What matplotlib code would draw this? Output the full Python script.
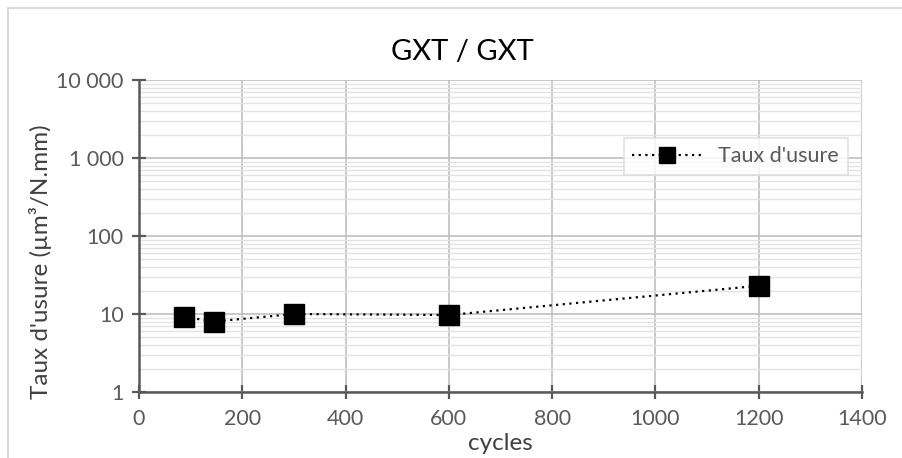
import numpy as np
import matplotlib.pyplot as plt
from matplotlib.patches import Rectangle
from matplotlib.ticker import LogLocator, NullFormatter

plt.rcParams['font.family'] = ['Lato', 'DejaVu Sans']

# donnees
cycles = [87, 145, 300, 600, 1200]
taux = [9.2, 8.0, 10.0, 9.7, 23.0]
yticks = [1, 10, 100, 1000, 10000]
ylabels = ['1', '10', '100', '1 000', '10 000']
xticks = [0, 200, 400, 600, 800, 1000, 1200, 1400]

W, H = 903, 458
fig = plt.figure(figsize=(W / 100, H / 100), dpi=100)
ax = fig.add_axes([139 / W, 1 - 392 / H, (862 - 139) / W, (392 - 80) / H])

ax.plot(cycles, taux, ls=(0, (1, 2)), lw=1.6, color='black',
        marker='s', ms=14, mfc='black', mec='black', label="Taux d'usure")

ax.set_yscale('log')
ax.set_ylim(1, 10000)
ax.set_xlim(0, 1400)
ax.set_xticks(xticks)
ax.set_yticks(yticks)
ax.set_yticklabels(ylabels)
ax.yaxis.set_minor_locator(LogLocator(base=10, subs=np.arange(2, 10)))
ax.yaxis.set_minor_formatter(NullFormatter())

ax.grid(True, which='major', color='#BFBFBF', lw=1.2)
ax.grid(True, which='minor', axis='y', color='#E3E3E3', lw=1.0)
ax.set_axisbelow(True)

for s in ['top', 'right']:
    ax.spines[s].set_visible(False)
for s in ['left', 'bottom']:
    ax.spines[s].set_color('#595959')
    ax.spines[s].set_linewidth(1.8)

ax.tick_params(which='major', direction='inout', length=10, width=1.6,
               color='#595959', labelcolor='#595959', labelsize=15.5)
ax.tick_params(which='minor', length=0)
ax.tick_params(axis='x', pad=7)
ax.tick_params(axis='y', pad=6)

fig.text(462 / W, 1 - 52 / H, 'GXT / GXT', ha='center', va='center',
         fontsize=21, color='black')
fig.text(500 / W, 1 - 443 / H, 'cycles', ha='center', va='center',
         fontsize=17.5, color='#404040')
fig.text(41 / W, 1 - 262 / H, "Taux d'usure (µm³/N.mm)", ha='center',
         va='center', rotation=90, fontsize=17.5, color='#404040')

leg = ax.legend(loc='upper left', bbox_to_anchor=((613 - 139) / 723, 1 - (127 - 80) / 312),
                frameon=True, fancybox=False, fontsize=15.5, handlelength=3.2,
                borderpad=0.4, markerscale=0.8)
leg.get_frame().set_edgecolor('#D9D9D9')
leg.get_frame().set_linewidth(1.2)
for t in leg.get_texts():
    t.set_color('#595959')

fig.patches.append(Rectangle((8 / W, -0.1), 1.2, 1 - 8 / H + 0.1,
                             transform=fig.transFigure, fill=False,
                             edgecolor='#D9D9D9', lw=1.5))

fig.savefig('out.png', dpi=100)
